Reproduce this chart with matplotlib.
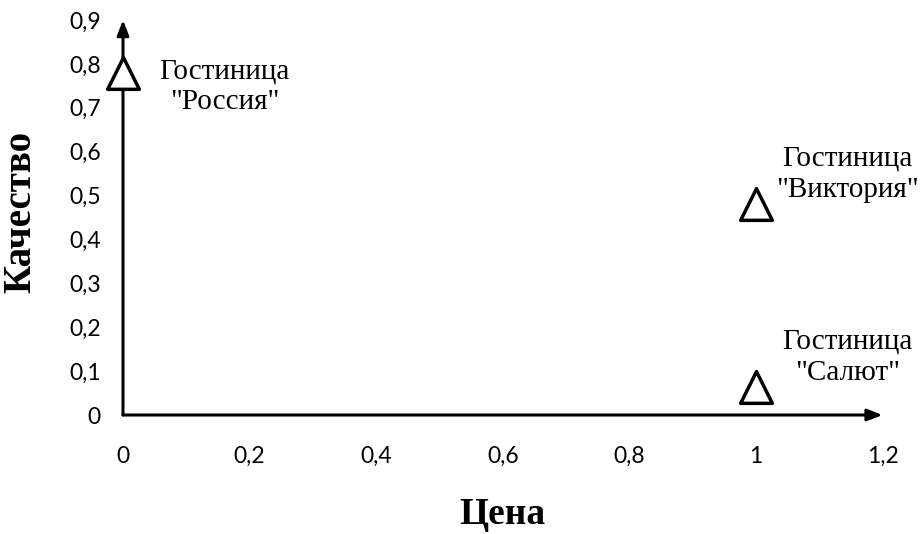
import matplotlib
matplotlib.use("Agg")
import matplotlib.pyplot as plt

# data
hotels = ['Гостиница\n"Россия"', 'Гостиница\n"Виктория"', 'Гостиница\n"Салют"']
price = [0.0, 1.0, 1.0]
quality = [0.78, 0.48, 0.063]
x_ticks = [0, 0.2, 0.4, 0.6, 0.8, 1.0, 1.2]
x_tick_labels = ["0", "0,2", "0,4", "0,6", "0,8", "1", "1,2"]
y_ticks = [0, 0.1, 0.2, 0.3, 0.4, 0.5, 0.6, 0.7, 0.8, 0.9]
y_tick_labels = ["0", "0,1", "0,2", "0,3", "0,4", "0,5", "0,6", "0,7", "0,8", "0,9"]

W, H = 922, 534
fig = plt.figure(figsize=(W / 100, H / 100), dpi=100)
ax = fig.add_axes([123 / W, 119 / H, (882.6 - 123) / W, 395 / H])
ax.set_xlim(0, 1.2)
ax.set_ylim(0, 0.9)
for s in ax.spines.values():
    s.set_visible(False)

# arrows for axes
arrow_kw = dict(arrowstyle="-|>,head_length=0.9,head_width=0.35", color="black", lw=2.2,
                shrinkA=0, shrinkB=0)
ax.annotate("", xy=(1, 0), xytext=(0, 0), xycoords="axes fraction", arrowprops=arrow_kw,
            annotation_clip=False)
ax.annotate("", xy=(0, 1), xytext=(0, 0), xycoords="axes fraction", arrowprops=arrow_kw,
            annotation_clip=False)

ax.scatter(price, quality, marker="^", s=520, facecolors="white", edgecolors="black",
           linewidths=2.5, zorder=5, clip_on=False)

offsets = [(73, -10), (66, 21.5), (66, 21.5)]
for lab, x, y, off in zip(hotels, price, quality, offsets):
    ax.annotate(lab, xy=(x, y), xytext=off, textcoords="offset points", ha="center",
                va="center", fontsize=21, family="Liberation Serif", linespacing=1.25,
                annotation_clip=False)

ax.set_xticks(x_ticks)
ax.set_xticklabels(x_tick_labels)
ax.set_yticks(y_ticks)
ax.set_yticklabels(y_tick_labels)
ax.tick_params(axis="both", length=0, labelsize=16.5)
ax.tick_params(axis="x", pad=22)
ax.tick_params(axis="y", pad=16)
for t in ax.get_xticklabels() + ax.get_yticklabels():
    t.set_family("Lato")

ax.set_xlabel("Цена", family="Liberation Serif", fontweight="bold", fontsize=27, va="center")
ax.set_ylabel("Качество", family="Liberation Serif", fontweight="bold", fontsize=28, va="center")
ax.xaxis.set_label_coords(0.5, (534 - 514 - 119) / 395)
ax.yaxis.set_label_coords((21 - 123) / 759.6, 0.515)

fig.savefig("out.png", dpi=100, facecolor="white")
